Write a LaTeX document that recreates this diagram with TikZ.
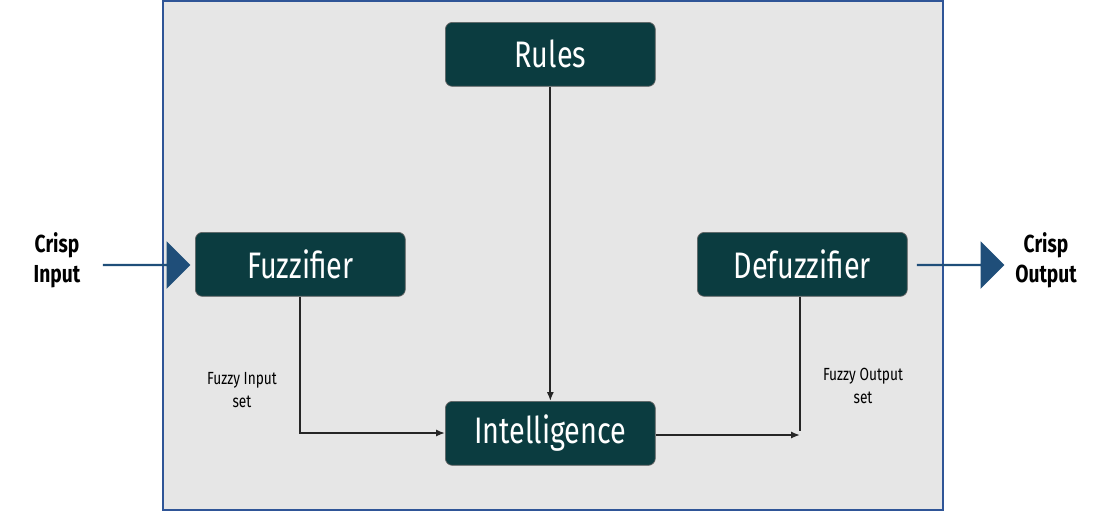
\documentclass[tikz,border=0pt]{standalone}
\usepackage{fontspec}
\setmainfont{Fira Sans}[FakeStretch=0.78]
\usetikzlibrary{arrows.meta,shapes.arrows}
\definecolor{teal}{HTML}{0B3C40}
\definecolor{bgray}{HTML}{E6E6E6}
\definecolor{frame}{HTML}{2F5597}
\definecolor{arrblue}{HTML}{1F4E79}
\begin{document}
\begin{tikzpicture}[x=0.02cm,y=-0.02cm,
 block/.style={draw=black!60,fill=teal,rounded corners=4pt,minimum width=4.2cm,minimum height=1.28cm,text=white,font=\fontsize{21}{24}\selectfont,anchor=north west},
 conn/.style={draw=black!85,line width=1pt},
 lab/.style={font=\fontsize{10}{13}\selectfont,align=center},
 crisp/.style={font=\bfseries\fontsize{14}{17}\selectfont,align=center},
 fat/.style={fill=arrblue,single arrow,single arrow head extend=4pt,minimum height=1.75cm,minimum width=0.95cm,inner sep=0pt,single arrow tip angle=90}]
\useasboundingbox (0,0) rectangle (1104,511);
\draw[fill=bgray,draw=frame,line width=0.8pt] (163,1) rectangle (943,510);
\node[block] (rules) at (445,22) {Rules};
\node[block] (fuzz) at (195,232) {Fuzzifier};
\node[block] (defuzz) at (697,232) {Defuzzifier};
\node[block] (intel) at (445,401) {Intelligence};
\node[fat] (ain) at (146,265) {};
\node[fat] (aout) at (960,265) {};
\node[crisp] (ci) at (57,260) {Crisp\\Input};
\node[crisp] (co) at (1046,260) {Crisp\\Output};
\node[lab] (fi) at (242,390) {Fuzzy Input\\set};
\node[lab] (fo) at (863,386) {Fuzzy Output\\set};
\coordinate (c1) at (300,433);
\coordinate (c2) at (800,435);
\draw[conn,-{Latex[length=5pt,width=4pt]}] (rules.south) -- (intel.north);
\draw[conn,-{Latex[length=5pt,width=4pt]}] (fuzz.south -| c1) -- (c1) -- (intel.west |- c1);
\draw[conn,-{Latex[length=5pt,width=4pt]}] (intel.east |- c2) -- (c2);
\draw[conn] (defuzz.south -| c2) -- ([yshift=2pt]c2);
\end{tikzpicture}
\end{document}
